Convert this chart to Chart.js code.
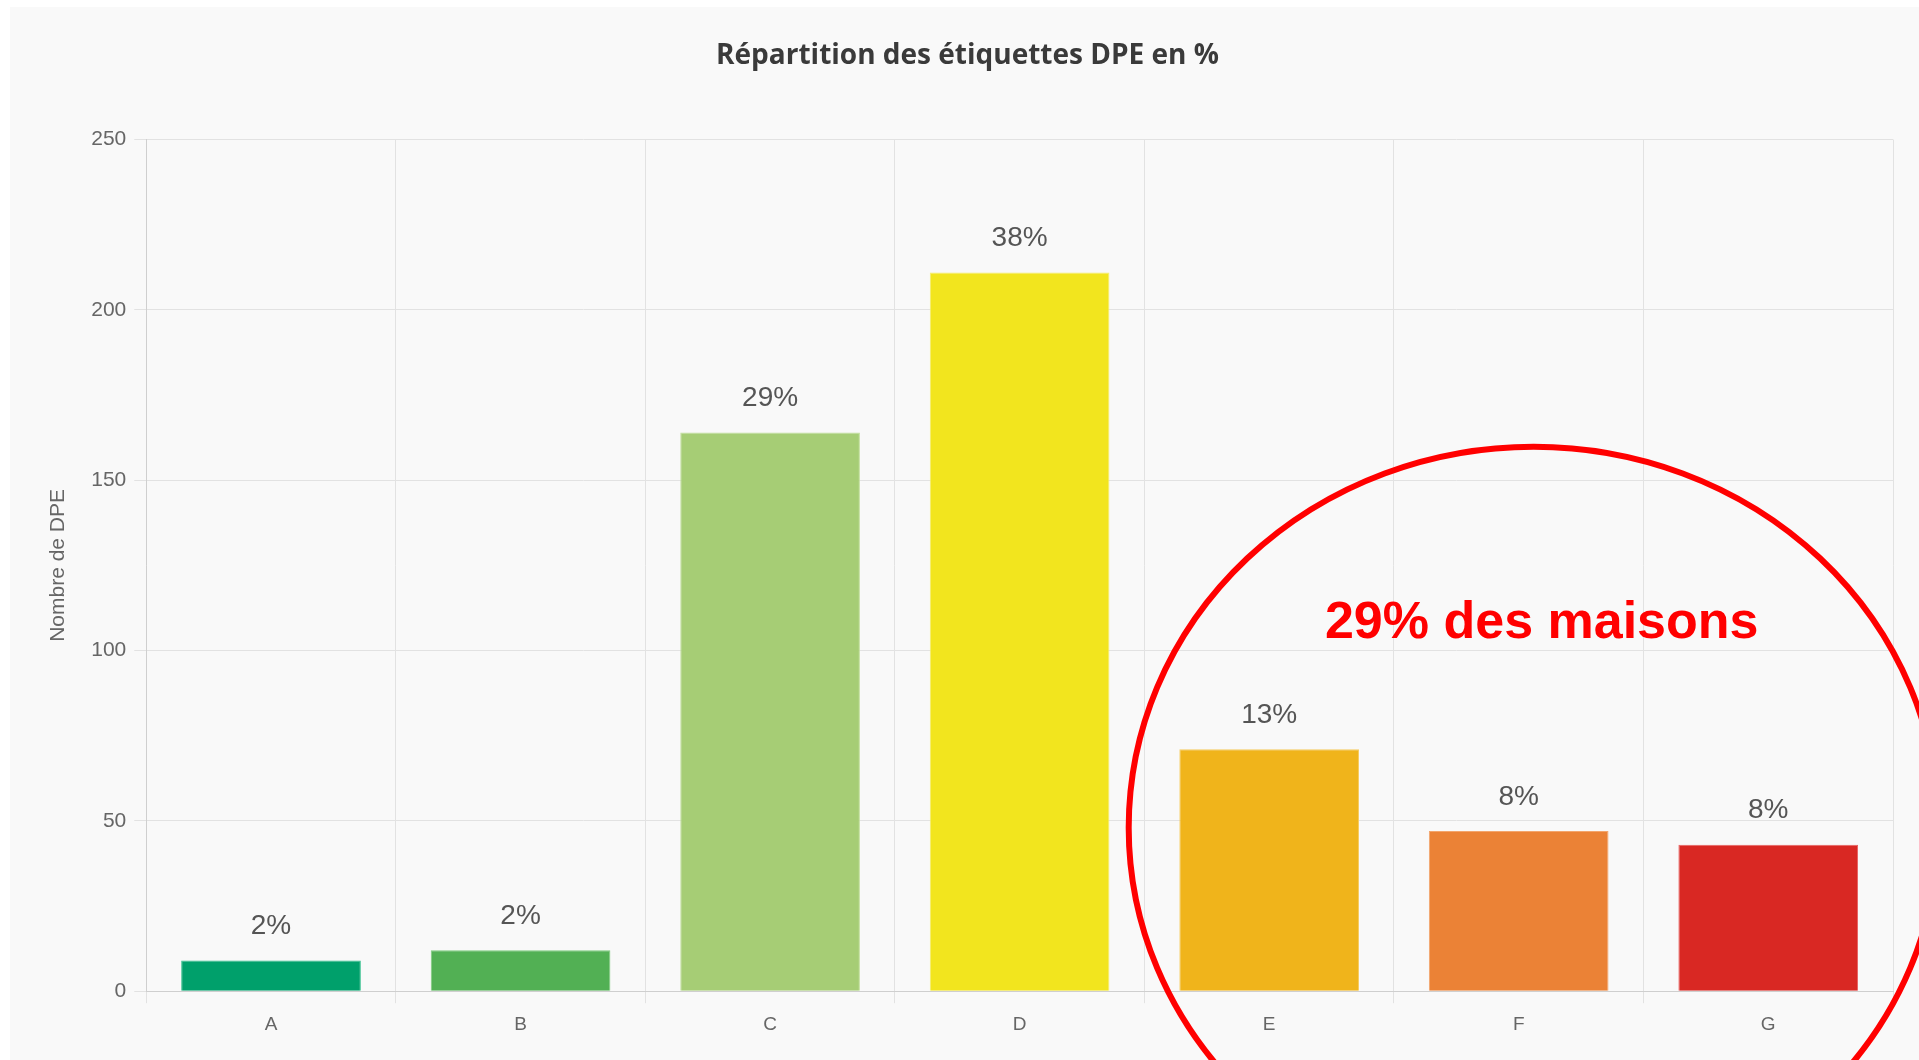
<!DOCTYPE html>
<html lang="fr">
<head>
<meta charset="utf-8">
<title>Répartition des étiquettes DPE</title>
<script src="https://cdn.jsdelivr.net/npm/chart.js@4.4.1/dist/chart.umd.min.js"></script>
<style>
  html, body { margin: 0; padding: 0; background: #ffffff; overflow: hidden; }
  #wrap { position: absolute; left: 10px; top: 7px; width: 1909px; height: 1053px; background: #f9f9f9; }
</style>
</head>
<body>
<div id="wrap"><canvas id="dpeChart"></canvas></div>
<script>
const etiquettes = ['A', 'B', 'C', 'D', 'E', 'F', 'G'];
const nombreDpe = [9, 12, 164, 211, 71, 47, 43];
const couleurs = ['#00a06b', '#52b054', '#a6cd75', '#f2e51e', '#f0b41b', '#eb8236', '#d92823'];
const bordures = ['#33c08d', '#7ccc7c', '#c2e09b', '#f7ee6a', '#f6cc60', '#f3a56d', '#e86060'];
const yTicks = [0, 50, 100, 150, 200, 250];
const annotation = '29% des maisons';

const total = nombreDpe.reduce((a, b) => a + b, 0);
const pourcentages = nombreDpe.map(v => Math.round(v / total * 100) + '%');

// labels au dessus des barres
const barLabels = {
    id: 'barLabels',
    afterDatasetsDraw(chart) {
        const ctx = chart.ctx;
        const meta = chart.getDatasetMeta(0);
        ctx.save();
        ctx.font = '28px "Liberation Sans", Arial, sans-serif';
        ctx.fillStyle = '#555555';
        ctx.textAlign = 'center';
        ctx.textBaseline = 'middle';
        meta.data.forEach((bar, i) => {
            ctx.fillText(pourcentages[i], bar.x, bar.y - 34);
        });
        ctx.restore();
    }
};

// cercle rouge et commentaire
const surlignage = {
    id: 'surlignage',
    afterDraw(chart) {
        const ctx = chart.ctx;
        const x = chart.scales.x;
        const y = chart.scales.y;
        const cx = x.getPixelForValue(5) + 15;
        const cy = y.getPixelForValue(48);
        ctx.save();
        ctx.strokeStyle = '#ff0000';
        ctx.lineWidth = 6;
        ctx.beginPath();
        ctx.ellipse(cx, cy, 405, 381, 0, 0, Math.PI * 2);
        ctx.stroke();
        ctx.fillStyle = '#ff0000';
        ctx.font = 'bold 52px "Liberation Sans", Arial, sans-serif';
        ctx.textAlign = 'center';
        ctx.textBaseline = 'middle';
        ctx.fillText(annotation, cx + 8, y.getPixelForValue(108));
        ctx.restore();
    }
};

const ctx = document.getElementById('dpeChart');

new Chart(ctx, {
    type: 'bar',
    data: {
        labels: etiquettes,
        datasets: [{
            label: 'Nombre de DPE',
            data: nombreDpe,
            backgroundColor: couleurs,
            borderColor: bordures,
            borderWidth: 1
        }]
    },
    options: {
        responsive: true,
        maintainAspectRatio: false,
        animation: false,
        layout: { padding: { left: 32, right: 26, top: 10, bottom: 14 } },
        plugins: {
            legend: { display: false },
            tooltip: { enabled: false },
            title: {
                display: true,
                text: 'Répartition des étiquettes DPE en %',
                color: '#3a3a3a',
                font: { family: '"Open Sans", sans-serif', size: 28, weight: 'bold' },
                padding: { top: 22, bottom: 67 }
            }
        },
        scales: {
            x: {
                grid: { color: '#e2e2e2', tickLength: 12, offset: true },
                border: { color: '#cfcfcf' },
                ticks: {
                    color: '#666666',
                    padding: 10,
                    font: { family: '"Liberation Sans", Arial, sans-serif', size: 19 }
                }
            },
            y: {
                min: 0,
                max: 250,
                afterBuildTicks(axis) { axis.ticks = yTicks.map(v => ({ value: v })); },
                grid: { color: '#e2e2e2', tickLength: 12 },
                border: { color: '#cfcfcf' },
                title: {
                    display: true,
                    text: 'Nombre de DPE',
                    color: '#666666',
                    font: { family: '"Liberation Sans", Arial, sans-serif', size: 21 },
                    padding: { bottom: 12 }
                },
                ticks: {
                    color: '#666666',
                    padding: 8,
                    font: { family: '"Liberation Sans", Arial, sans-serif', size: 21 }
                }
            }
        }
    },
    plugins: [barLabels, surlignage]
});
</script>
</body>
</html>
